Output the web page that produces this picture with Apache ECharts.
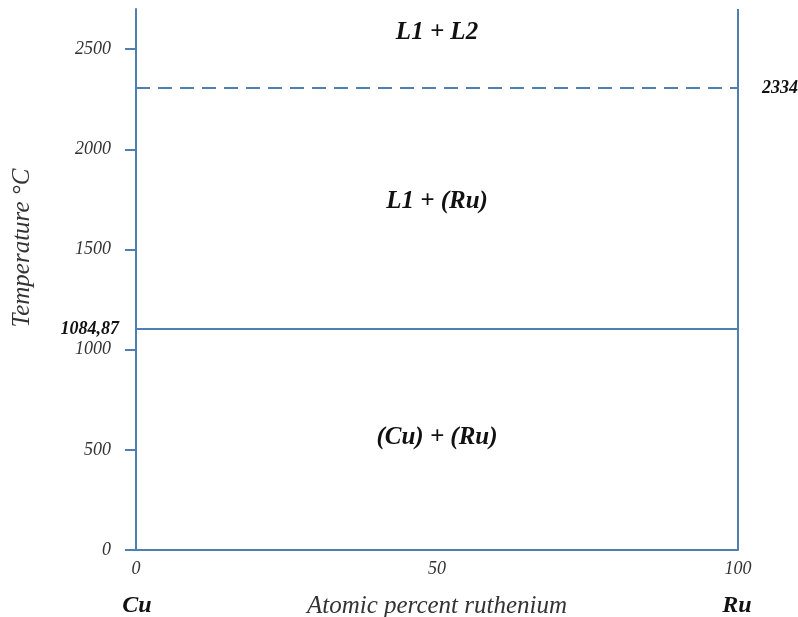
<!DOCTYPE html>
<html>
<head>
<meta charset="utf-8">
<script src="https://cdn.jsdelivr.net/npm/echarts@6/dist/echarts.min.js"></script>
<style>html,body{margin:0;padding:0;background:#fff;}#c{width:798px;height:617px;}</style>
</head>
<body>
<div id="c"></div>
<script>
// Data
const xTicks = [0, 50, 100];
const yTicks = [0, 500, 1000, 1500, 2000, 2500];
const componentLabels = ['Cu', 'Ru'];
const xName = 'Atomic percent ruthenium';
const yName = 'Temperature °C';
// horizontal reaction lines: drawn temperature, label text, style
const lineTemps = [1103, 2305];
const lineLabels = ['1084,87', '2334'];
const lineStyles = ['solid', 'dashed'];
// phase region labels
const regionX = [50, 50, 50];
const regionY = [2580, 1740, 563];
const regionText = ['L1 + L2', 'L1 + (Ru)', '(Cu) + (Ru)'];

const LINE = '#4f7fb0';
const FONT = '"Liberation Serif", "Times New Roman", serif';

const chart = echarts.init(document.getElementById('c'), null, {renderer: 'canvas'});
chart.setOption({
  backgroundColor: '#fff',
  animation: false,
  grid: {left: 136, right: 60, top: 9, bottom: 67, containLabel: false, outerBoundsMode: 'none'},
  xAxis: {
    type: 'value', min: 0, max: 100, interval: 50,
    axisLine: {show: true, lineStyle: {color: LINE, width: 2}},
    axisTick: {show: false},
    splitLine: {show: false},
    axisLabel: {fontFamily: FONT, fontStyle: 'italic', fontSize: 18, color: '#333', margin: 10,
      customValues: xTicks, formatter: v => String(v)},
    name: xName, nameLocation: 'middle', nameGap: 44,
    nameTextStyle: {fontFamily: FONT, fontStyle: 'italic', fontSize: 25, color: '#333'}
  },
  yAxis: {
    type: 'value', min: 0, max: 2700, interval: 500,
    axisLine: {show: true, lineStyle: {color: LINE, width: 2}},
    axisTick: {show: true, inside: false, length: 11, lineStyle: {color: LINE, width: 2}, customValues: yTicks},
    splitLine: {show: false},
    axisLabel: {fontFamily: FONT, fontStyle: 'italic', fontSize: 18, color: '#333', margin: 25,
      customValues: yTicks, formatter: v => String(v)}
  },
  series: [
    {
      type: 'scatter', symbolSize: 0,
      itemStyle: {opacity: 1},
      data: regionX.map((x, i) => ({value: [x, regionY[i]], label: {formatter: regionText[i]}})),
      label: {show: true, position: 'inside', fontFamily: FONT, fontStyle: 'italic', fontWeight: 'bold',
        fontSize: 25, color: '#111', opacity: 1},
      silent: true,
      markLine: {
        symbol: 'none', silent: true, animation: false,
        data: [
          {xAxis: 100, lineStyle: {color: LINE, width: 2, type: 'solid'}, label: {show: false}},
          ...lineTemps.map((t, i) => ({
            yAxis: t,
            lineStyle: {color: LINE, width: 2, type: lineStyles[i] === 'dashed' ? [14, 8] : 'solid'},
            label: {show: true, position: i === 0 ? 'start' : 'end', formatter: lineLabels[i],
              distance: i === 0 ? 17 : 24,
              fontFamily: FONT, fontStyle: 'italic', fontWeight: 'bold', fontSize: 18, color: '#111'}
          }))
        ]
      }
    }
  ],
  graphic: [
    ...componentLabels.map((t, i) => ({
      type: 'text',
      x: i === 0 ? 137 : 737, y: 606,
      style: {text: t, font: 'italic bold 24px ' + FONT, fill: '#111', textAlign: 'center', textVerticalAlign: 'middle'}
    })),
    {
      type: 'text', x: 22, y: 248, rotation: Math.PI / 2,
      style: {text: yName, font: 'italic 25px ' + FONT, fill: '#333', textAlign: 'center', textVerticalAlign: 'middle'}
    }
  ]
});
</script>
</body>
</html>
